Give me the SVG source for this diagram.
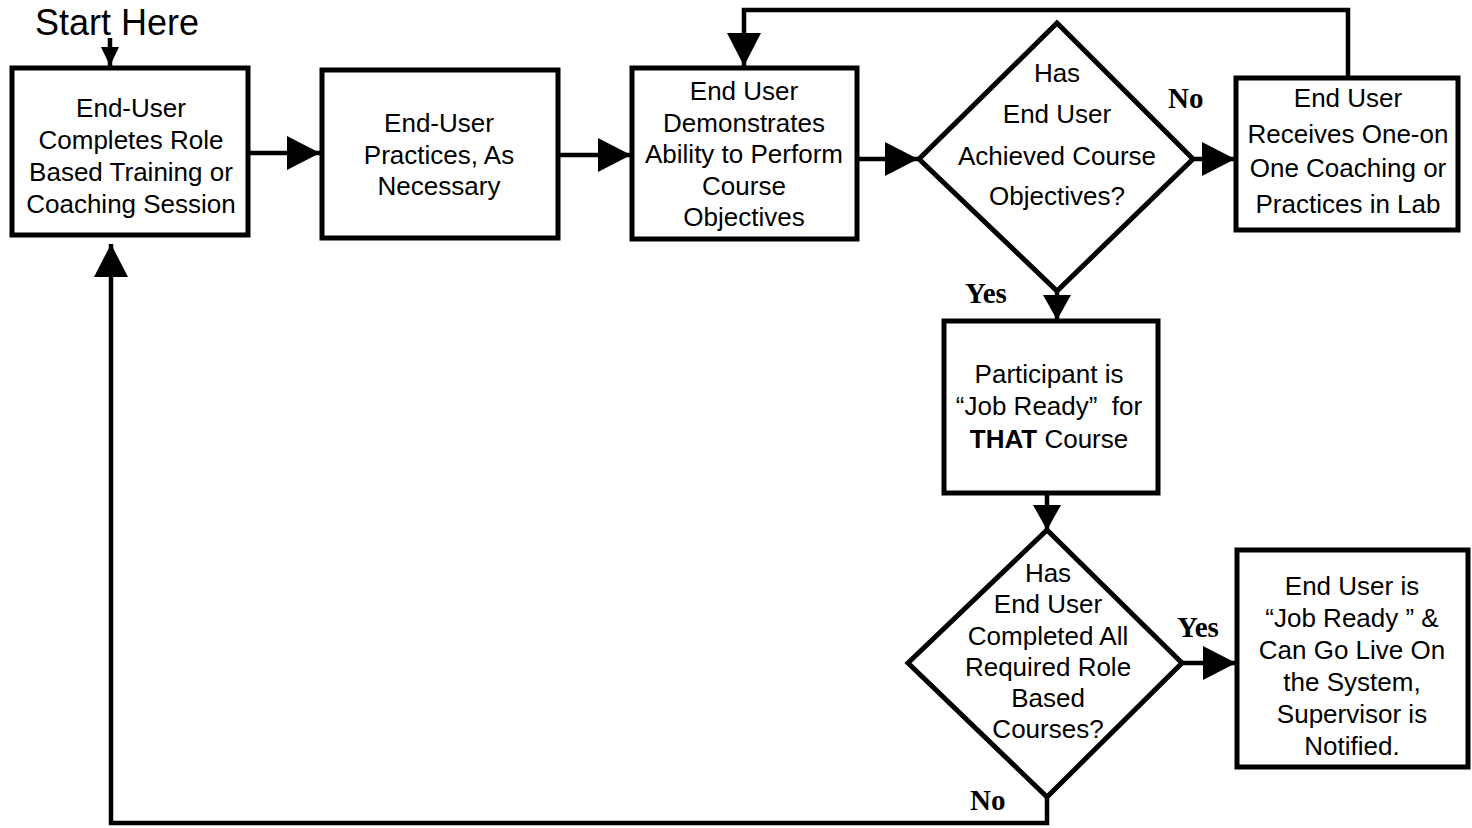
<svg xmlns="http://www.w3.org/2000/svg" width="1472" height="828" viewBox="0 0 1472 828">
<style>
.box{fill:#fff;stroke:#000;stroke-width:5}
.dia{fill:#fff;stroke:#000;stroke-width:5;stroke-linejoin:miter}
.t{font-family:"Liberation Sans",Arial,sans-serif;font-size:26px;fill:#000;text-anchor:middle}
.lbl{font-family:"Liberation Serif","Times New Roman",serif;font-size:29px;font-weight:bold;fill:#000}
.c{fill:none;stroke:#000;stroke-width:4.5}
</style>
<defs>
<marker id="big" markerUnits="userSpaceOnUse" markerWidth="34" markerHeight="36" refX="33" refY="18" orient="auto">
<path d="M0,1 L33,18 L0,35 z" fill="#000"/>
</marker>
<marker id="mid" markerUnits="userSpaceOnUse" markerWidth="26" markerHeight="30" refX="25" refY="15" orient="auto">
<path d="M0,1 L25,15 L0,29 z" fill="#000"/>
</marker>
<marker id="small" markerUnits="userSpaceOnUse" markerWidth="20" markerHeight="22" refX="19" refY="11" orient="auto">
<path d="M0,2 L19,11 L0,20 z" fill="#000"/>
</marker>
</defs>
<rect width="1472" height="828" fill="#fff"/>

<text x="35" y="35" font-family="Liberation Sans, Arial, sans-serif" font-size="36" fill="#000">Start Here</text>

<g id="connectors">
<line class="c" x1="110" y1="38" x2="110" y2="66" marker-end="url(#small)" stroke-width="2"/>
<line class="c" x1="248" y1="153" x2="320" y2="153" marker-end="url(#big)"/>
<line class="c" x1="558" y1="155" x2="631" y2="155" marker-end="url(#big)"/>
<line class="c" x1="857" y1="159" x2="918" y2="159" marker-end="url(#big)"/>
<line class="c" x1="1192" y1="159" x2="1235" y2="159" marker-end="url(#big)"/>
<polyline class="c" points="1348,78 1348,10 744,10 744,66" marker-end="url(#big)"/>
<line class="c" x1="1057" y1="289" x2="1057" y2="320" marker-end="url(#mid)"/>
<line class="c" x1="1047" y1="493" x2="1047" y2="530" marker-end="url(#mid)"/>
<line class="c" x1="1182" y1="663" x2="1236" y2="663" marker-end="url(#big)"/>
<polyline class="c" points="1047,797 1047,823 111,823 111,244" marker-end="url(#big)"/>
</g>

<g id="n1">
<rect class="box" x="12" y="68" width="236" height="167"/>
<text class="t" x="131" y="117">End-User</text>
<text class="t" x="131" y="149">Completes Role</text>
<text class="t" x="131" y="181">Based Training or</text>
<text class="t" x="131" y="213">Coaching Session</text>
</g>

<g id="n2">
<rect class="box" x="322" y="70" width="236" height="168"/>
<text class="t" x="439" y="132">End-User</text>
<text class="t" x="439" y="164">Practices, As</text>
<text class="t" x="439" y="195">Necessary</text>
</g>

<g id="n3">
<rect class="box" x="632" y="68" width="225" height="171"/>
<text class="t" x="744" y="100">End User</text>
<text class="t" x="744" y="132">Demonstrates</text>
<text class="t" x="744" y="163">Ability to Perform</text>
<text class="t" x="744" y="195">Course</text>
<text class="t" x="744" y="226">Objectives</text>
</g>

<g id="d1">
<polygon class="dia" points="1057,23 1193,159 1057,291 919,159"/>
<text class="t" x="1057" y="82">Has</text>
<text class="t" x="1057" y="123">End User</text>
<text class="t" x="1057" y="165">Achieved Course</text>
<text class="t" x="1057" y="205">Objectives?</text>
</g>

<g id="n4">
<rect class="box" x="1236" y="78" width="222" height="152"/>
<text class="t" x="1348" y="107">End User</text>
<text class="t" x="1348" y="143">Receives One-on</text>
<text class="t" x="1348" y="177">One Coaching or</text>
<text class="t" x="1348" y="213">Practices in Lab</text>
</g>

<g id="n5">
<rect class="box" x="944" y="321" width="214" height="172"/>
<text class="t" x="1049" y="383">Participant is</text>
<text class="t" x="1049" y="415" xml:space="preserve">“Job Ready”  for</text>
<text class="t" x="1049" y="448"><tspan font-weight="bold">THAT</tspan> Course</text>
</g>

<g id="d2">
<polygon class="dia" points="1047,530 1182,663 1047,797 908,663"/>
<text class="t" x="1048" y="582">Has</text>
<text class="t" x="1048" y="613">End User</text>
<text class="t" x="1048" y="645">Completed All</text>
<text class="t" x="1048" y="676">Required Role</text>
<text class="t" x="1048" y="707">Based</text>
<text class="t" x="1048" y="738">Courses?</text>
</g>

<g id="n6">
<rect class="box" x="1237" y="550" width="231" height="217"/>
<text class="t" x="1352" y="595">End User is</text>
<text class="t" x="1352" y="627">“Job Ready ” &amp;</text>
<text class="t" x="1352" y="659">Can Go Live On</text>
<text class="t" x="1352" y="691">the System,</text>
<text class="t" x="1352" y="723">Supervisor is</text>
<text class="t" x="1352" y="755">Notified.</text>
</g>

<g id="labels">
<text class="lbl" x="1168" y="108">No</text>
<text class="lbl" x="965" y="303">Yes</text>
<text class="lbl" x="1177" y="637">Yes</text>
<text class="lbl" x="970" y="810">No</text>
</g>
</svg>
